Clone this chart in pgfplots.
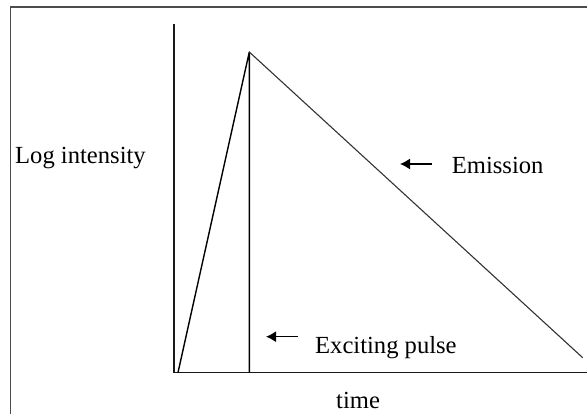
\documentclass[border=0pt]{standalone}
\usepackage{fontspec}
\setmainfont{Liberation Serif}
\usepackage{pgfplots}
\pgfplotsset{compat=1.18}
\usetikzlibrary{arrows.meta}
\begin{document}
\begin{tikzpicture}
\begin{axis}[
  at={(0,0)}, anchor=south west,
  scale only axis, width=587bp, height=414bp,
  xmin=0, xmax=587, ymin=0, ymax=414, y dir=reverse,
  hide axis, clip=false,
]
% frame
\addplot[color=black!70, line width=1.6bp] coordinates {(10.5,414) (10.5,7.3) (587,7.3)};
% axes
\addplot[color=black!90, line width=1.6bp] coordinates {(174,24) (174,372.5) (587,372.5)};
% exciting pulse
\addplot[color=black, line width=1.4bp, line join=round] coordinates {(178,372.5) (249.3,52) (249.3,372.5)};
% emission decay
\addplot[color=black!80, line width=1.1bp] coordinates {(249.3,52) (582.7,357.7)};
% arrows
\addplot[color=black, line width=1.3bp, -{Latex[length=10bp,width=11bp]}] coordinates {(431.7,164) (400,164)};
\addplot[color=black, line width=1.3bp, -{Latex[length=10bp,width=11bp]}] coordinates {(298,336.7) (266,336.7)};
% labels
\node[anchor=base west, inner sep=0pt, font=\fontsize{24.6bp}{28bp}\selectfont] at (axis cs:15,163.3) {Log intensity};
\node[anchor=base west, inner sep=0pt, font=\fontsize{24.6bp}{28bp}\selectfont] at (axis cs:451.7,173) {Emission};
\node[anchor=base west, inner sep=0pt, font=\fontsize{24.6bp}{28bp}\selectfont] at (axis cs:315,353) {Exciting pulse};
\node[anchor=base west, inner sep=0pt, font=\fontsize{24.6bp}{28bp}\selectfont] at (axis cs:336,408) {time};
\end{axis}
\pgfresetboundingbox
\useasboundingbox (0,0) rectangle (587bp,414bp);
\end{tikzpicture}
\end{document}
